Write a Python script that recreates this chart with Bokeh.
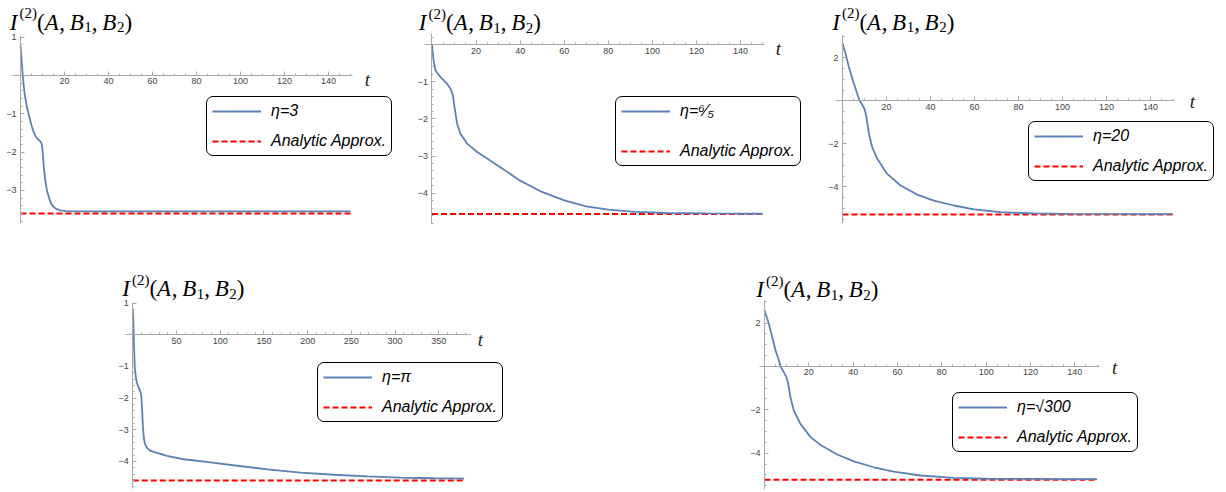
import numpy as np
from bokeh.plotting import figure
from bokeh.models import FixedTicker, Label, Legend, LegendItem, Range1d, Spacer
from bokeh.layouts import column, row
from bokeh.embed import file_html
from bokeh.resources import INLINE

# ---------------- data ----------------
t1 = [0, 0.5, 1, 1.5, 2, 3, 4, 5, 6, 7, 8, 9, 9.6, 10, 10.6, 11.3, 12, 13, 14, 15, 16.5, 18, 21, 30, 150]
y1 = [0.78, 0.4, 0.02, -0.3, -0.52, -0.85, -1.08, -1.3, -1.48, -1.6, -1.67, -1.72, -1.78, -1.95, -2.4,
      -2.75, -3.0, -3.2, -3.35, -3.43, -3.49, -3.52, -3.54, -3.55, -3.55]
approx1 = -3.60

t2 = [0, 0.8, 1.6, 3.9, 6.9, 8.4, 9.5, 10.2, 11.4, 12.9, 16, 20.5, 31, 40, 49, 60, 70, 80, 92, 107, 125, 150]
y2 = [0.0, -0.47, -0.7, -0.88, -1.06, -1.19, -1.37, -1.68, -2.13, -2.4, -2.67, -2.89, -3.3, -3.66, -3.94,
      -4.19, -4.35, -4.44, -4.5, -4.53, -4.54, -4.55]
approx2 = -4.56

t3 = [0, 1.4, 2.9, 5.2, 6.7, 7.7, 8.9, 10, 10.9, 12, 13.5, 15.8, 20.3, 26.4, 33.9, 41.5, 50.6, 59.7, 71.8, 87, 102, 150]
y3 = [2.68, 2.19, 1.57, 0.79, 0.33, 0.02, -0.17, -0.37, -0.76, -1.53, -2.16, -2.7, -3.4, -3.94, -4.36,
      -4.64, -4.87, -5.05, -5.18, -5.24, -5.26, -5.27]
approx3 = -5.29

t4 = [0, 0.8, 1.5, 2.3, 3.5, 5, 7, 8.8, 9.8, 10.7, 11.6, 12.6, 14, 16.5, 20, 24, 39, 58, 89, 115, 154,
      192, 230, 268, 306, 344, 379]
y4 = [0.82, 0.24, -0.39, -1.05, -1.35, -1.55, -1.68, -1.8, -1.95, -2.4, -2.9, -3.25, -3.45, -3.58, -3.66,
      -3.7, -3.82, -3.93, -4.03, -4.12, -4.25, -4.35, -4.42, -4.47, -4.51, -4.53, -4.54]
approx4 = -4.60

t5 = [0, 1.95, 3.5, 5, 6.5, 7.2, 8.7, 9.9, 10.7, 11.7, 13.2, 16.2, 20.8, 25.3, 32.8, 40.3, 49.3, 58.3,
      70.4, 85.4, 100.5, 150]
y5 = [2.6, 1.97, 1.35, 0.74, 0.28, 0.0, -0.26, -0.49, -0.8, -1.42, -2.03, -2.65, -3.26, -3.62, -4.06,
      -4.38, -4.65, -4.85, -5.03, -5.14, -5.18, -5.2]
approx5 = -5.23

eta_labels = ["η=3", "η=⁶⁄₅", "η=20", "η=π", "η=√300"]
approx_label = "Analytic Approx."

# title I^(2)(A, B1, B2) split into pieces: (text, italic?, script: 0 main, 1 super, -1 sub)
title_pieces = [("I", True, 0), ("(2)", False, 1), ("(", False, 0), ("A", True, 0), (",", False, 0),
                ("B", True, 0), ("1", False, -1), (",", False, 0), ("B", True, 0), ("2", False, -1),
                (")", False, 0)]

x_major_150 = [20, 40, 60, 80, 100, 120, 140]
x_minor_150 = list(range(5, 155, 5))
x_major_380 = [50, 100, 150, 200, 250, 300, 350]
x_minor_380 = list(range(10, 390, 10))

BLUE = "#5E81B5"
RED = "#FF0000"
AXIS = "#a8a8a8"

# approximate advance widths (em) of Liberation Serif
ADV = {"I": 0.333, "(": 0.333, ")": 0.333, "A": 0.611, ",": 0.25, "B": 0.611, "1": 0.5, "2": 0.5}
GAP_AFTER = {",": 0.2}


def fmt(v):
    return ("−%g" % abs(v)) if v < 0 else ("%g" % v)


def add_title(p, x, y, main=23, script=15):
    xo = 0.0
    for text, ital, lvl in title_pieces:
        size = main if lvl == 0 else script
        yo = 9 if lvl == 1 else (-5 if lvl == -1 else 0)
        if lvl == 1:
            xo += 1.5
        p.add_layout(Label(x=x, y=y, x_offset=xo, y_offset=yo, text=text,
                           text_font="Liberation Serif", text_font_style="italic" if ital else "normal",
                           text_font_size="%dpx" % size, text_color="black",
                           text_align="left", text_baseline="alphabetic"))
        w = sum(ADV.get(c, 0.5) for c in text) * size
        if ital:
            w += 0.6
        xo += w + GAP_AFTER.get(text, 0) * size


def panel(t, y, approx, eta, width, height, xr, yr, xb, yb, xmaj, xmin, ymaj, ymin,
          title_xy, t_xy, legend_loc, spacing=12):
    p = figure(width=width, height=height, output_backend="svg", toolbar_location=None,
               x_range=Range1d(*xr), y_range=Range1d(*yr),
               min_border_left=0, min_border_right=0, min_border_top=0, min_border_bottom=0)
    p.outline_line_color = None
    p.xgrid.visible = False
    p.ygrid.visible = False
    p.background_fill_color = "white"
    p.border_fill_color = "white"

    for ax, maj, mn, b in ((p.xaxis[0], xmaj, xmin, xb), (p.yaxis[0], ymaj, ymin, yb)):
        ax.fixed_location = 0
        ax.bounds = b
        ax.ticker = FixedTicker(ticks=maj, minor_ticks=mn)
        ax.major_label_overrides = {int(v): fmt(v) for v in maj}
        ax.axis_line_color = AXIS
        ax.major_tick_line_color = AXIS
        ax.minor_tick_line_color = AXIS
        ax.major_tick_in = 4
        ax.major_tick_out = 0
        ax.minor_tick_in = 2
        ax.minor_tick_out = 0
        ax.major_label_text_font = "Liberation Sans"
        ax.major_label_text_font_size = "9px"
        ax.major_label_text_color = "#444444"
    p.xaxis[0].major_label_standoff = 3
    p.yaxis[0].major_label_standoff = 4

    tt = [0, t[-1]]
    rr = p.line(tt, [approx, approx], line_color=RED, line_width=2, line_dash="6 3")
    rb = p.line(t, y, line_color=BLUE, line_width=1.8)

    add_title(p, title_xy[0], title_xy[1])
    p.add_layout(Label(x=t_xy[0], y=t_xy[1], text="t", text_font="Liberation Serif",
                       text_font_style="italic", text_font_size="19px", text_color="#222222",
                       text_align="center", text_baseline="middle"))

    legend = Legend(items=[LegendItem(label=eta, renderers=[rb]),
                           LegendItem(label=approx_label, renderers=[rr])],
                    location=legend_loc, orientation="vertical",
                    border_line_color="black", border_line_width=1.3, border_line_alpha=1.0,
                    background_fill_color="white", background_fill_alpha=1.0,
                    label_text_font="Liberation Sans", label_text_font_style="italic",
                    label_text_font_size="16px", label_text_color="black",
                    glyph_width=49, glyph_height=16, label_height=16, label_standoff=10,
                    padding=5, spacing=spacing, margin=0)
    if "border_radius" in Legend.properties():
        legend.border_radius = 7
    p.add_layout(legend)
    return p


p1 = panel(t1, y1, approx1, eta_labels[0], 400, 250,
           (-9.091, 172.727), (-4.569, 1.958), (-3.64, 150.9), (-3.864, 1.044),
           x_major_150, x_minor_150,
           [-3, -2, -1, 1], list(np.round(np.arange(-3.8, 1.01, 0.2), 2)),
           (-4.86, 1.384), (157.7, -0.1), (206, 94))

p2 = panel(t2, y2, approx2, eta_labels[1], 415, 250,
           (-14.29, 174.0), (-5.538, 1.183), (-3.4, 150.9), (-4.81, 0.296),
           x_major_150, x_minor_150,
           [-4, -3, -2, -1], list(np.round(np.arange(-4.8, 0.21, 0.2), 2)),
           (-5.99, 0.591), (157.2, -0.11), (215, 84), spacing=22)

p3 = panel(t3, y3, approx3, eta_labels[2], 411, 250,
           (-12.27, 174.5), (-6.963, 4.665), (-3.18, 150.9), (-5.71, 3.04),
           x_major_150, x_minor_150,
           [-4, -2, 2], list(np.round(np.arange(-5.5, 3.01, 0.5), 2)),
           (-4.7, 3.642), (159.0, -0.03), (213, 69))

p4 = panel(t4, y4, approx4, eta_labels[3], 430, 242,
           (-36.94, 454.9), (-4.98, 2.662), (-8.35, 386.2), (-4.853, 1.02),
           x_major_380, x_minor_380,
           [-4, -3, -2, -1, 1], list(np.round(np.arange(-4.8, 1.01, 0.2), 2)),
           (-12.1, 1.452), (397.7, -0.15), (217, 70))

p5 = panel(t5, y5, approx5, eta_labels[4], 486, 242,
           (-10.83, 208.4), (-5.815, 5.353), (-2.26, 151.1), (-5.676, 3.046),
           x_major_150, x_minor_150,
           [-4, -2, 2], list(np.round(np.arange(-5.5, 3.01, 0.5), 2)),
           (-3.74, 3.553), (157.9, -0.05), (212, 40))

layout = column(row(p1, p2, p3),
                row(Spacer(width=100, height=242), p4, Spacer(width=210, height=242), p5))

open("out.html", "w").write(file_html(layout, INLINE))
